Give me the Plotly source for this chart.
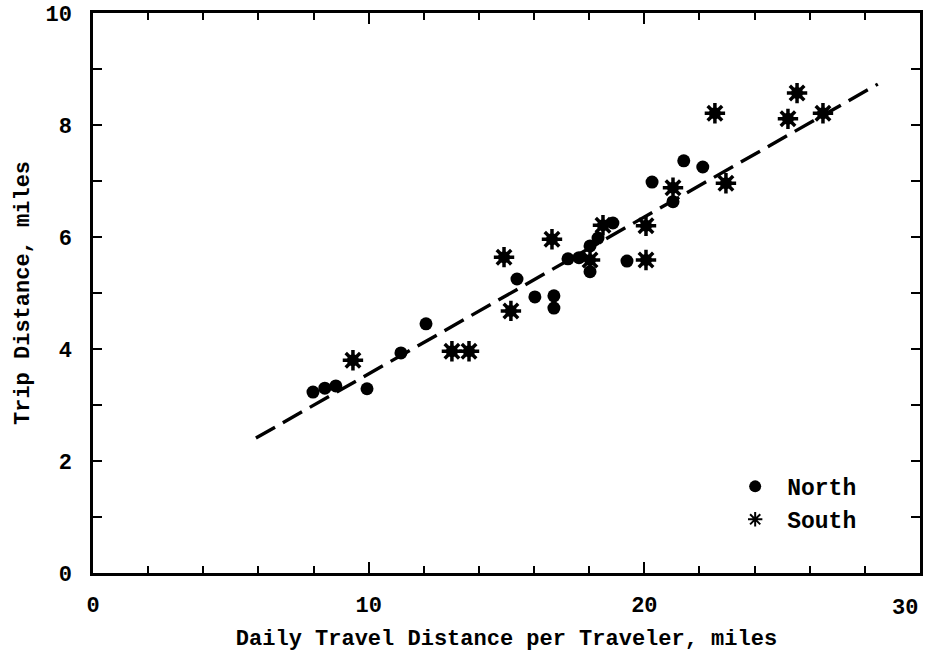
import plotly.graph_objects as go

north_x = [7.98, 8.41, 8.81, 9.94, 11.17, 12.08, 15.38, 16.03, 16.72, 16.72, 17.23, 17.63, 18.03, 18.03, 18.32, 18.86, 19.37, 20.28, 21.04, 21.43, 22.12]
north_y = [3.23, 3.30, 3.34, 3.29, 3.93, 4.45, 5.25, 4.93, 4.95, 4.73, 5.61, 5.63, 5.84, 5.38, 5.98, 6.25, 5.57, 6.98, 6.63, 7.36, 7.25]

south_x = [9.43, 13.02, 13.64, 14.91, 15.16, 16.65, 18.03, 18.50, 20.06, 20.06, 21.04, 22.56, 22.96, 25.21, 25.54, 26.48]
south_y = [3.80, 3.96, 3.96, 5.64, 4.68, 5.96, 5.59, 6.21, 6.20, 5.59, 6.88, 8.21, 6.96, 8.11, 8.57, 8.21]

fit_x = [5.91, 28.47]
fit_y = [2.41, 8.73]

x_ticks = [0, 10, 20, 30]
x_labels = ["0", "10", "20", "30"]
y_ticks = [0, 2, 4, 6, 8, 10]

FONT = "Liberation Mono"

fig = go.Figure()
fig.add_trace(go.Scatter(x=fit_x, y=fit_y, mode="lines", showlegend=False,
                         line=dict(color="black", width=3.4, dash="22px,9px")))
fig.add_trace(go.Scatter(x=north_x, y=north_y, mode="markers", name="North",
                         marker=dict(symbol="circle", size=13, color="black")))
fig.add_trace(go.Scatter(x=south_x, y=south_y, mode="markers", showlegend=False,
                         marker=dict(symbol="circle", size=12, color="black")))
fig.add_trace(go.Scatter(x=south_x, y=south_y, mode="markers", name="South",
                         marker=dict(symbol="asterisk", size=17, color="black",
                                     line=dict(color="black", width=3.5))))

tickfont = dict(family=FONT, size=22, color="black", weight="bold")
titlefont = dict(family=FONT, size=22, color="black", weight="bold")
axis_common = dict(showline=True, linecolor="black", linewidth=2.5, mirror="allticks",
                   ticks="inside", tickcolor="black", tickwidth=2, showgrid=False,
                   zeroline=False, tickfont=tickfont, ticklabeloverflow="allow",
                   automargin=False)

# last x label is drawn as an annotation so it stays inside the page (right-aligned to the axis end)
fig.update_xaxes(range=[0, 30], tickvals=x_ticks, ticktext=x_labels[:-1] + [""], ticklen=11,
                 ticklabelstandoff=10,
                 minor=dict(dtick=2, ticks="inside", ticklen=7, tickcolor="black", tickwidth=2),
                 title=dict(text="Daily Travel Distance per Traveler, miles", font=titlefont, standoff=14),
                 **axis_common)
fig.update_yaxes(range=[0, 10], tickvals=y_ticks, ticklen=9, ticklabelstandoff=14,
                 minor=dict(dtick=1, ticks="inside", ticklen=9, tickcolor="black", tickwidth=2),
                 title=dict(text="Trip Distance, miles", font=titlefont, standoff=10),
                 **axis_common)

fig.add_annotation(x=x_ticks[-1], xref="x", y=0, yref="paper", text=x_labels[-1],
                   showarrow=False, xanchor="right", yanchor="top", yshift=-21,
                   font=tickfont)

fig.update_layout(
    width=927, height=652,
    margin=dict(l=93, r=7, t=13, b=79),
    plot_bgcolor="white", paper_bgcolor="white",
    legend=dict(x=0.762, y=0.193, xanchor="left", yanchor="top", bgcolor="rgba(0,0,0,0)",
                font=dict(family=FONT, size=23, color="black", weight="bold"),
                itemsizing="constant", itemwidth=54, tracegroupgap=9),
)

fig.write_html("out.html")
